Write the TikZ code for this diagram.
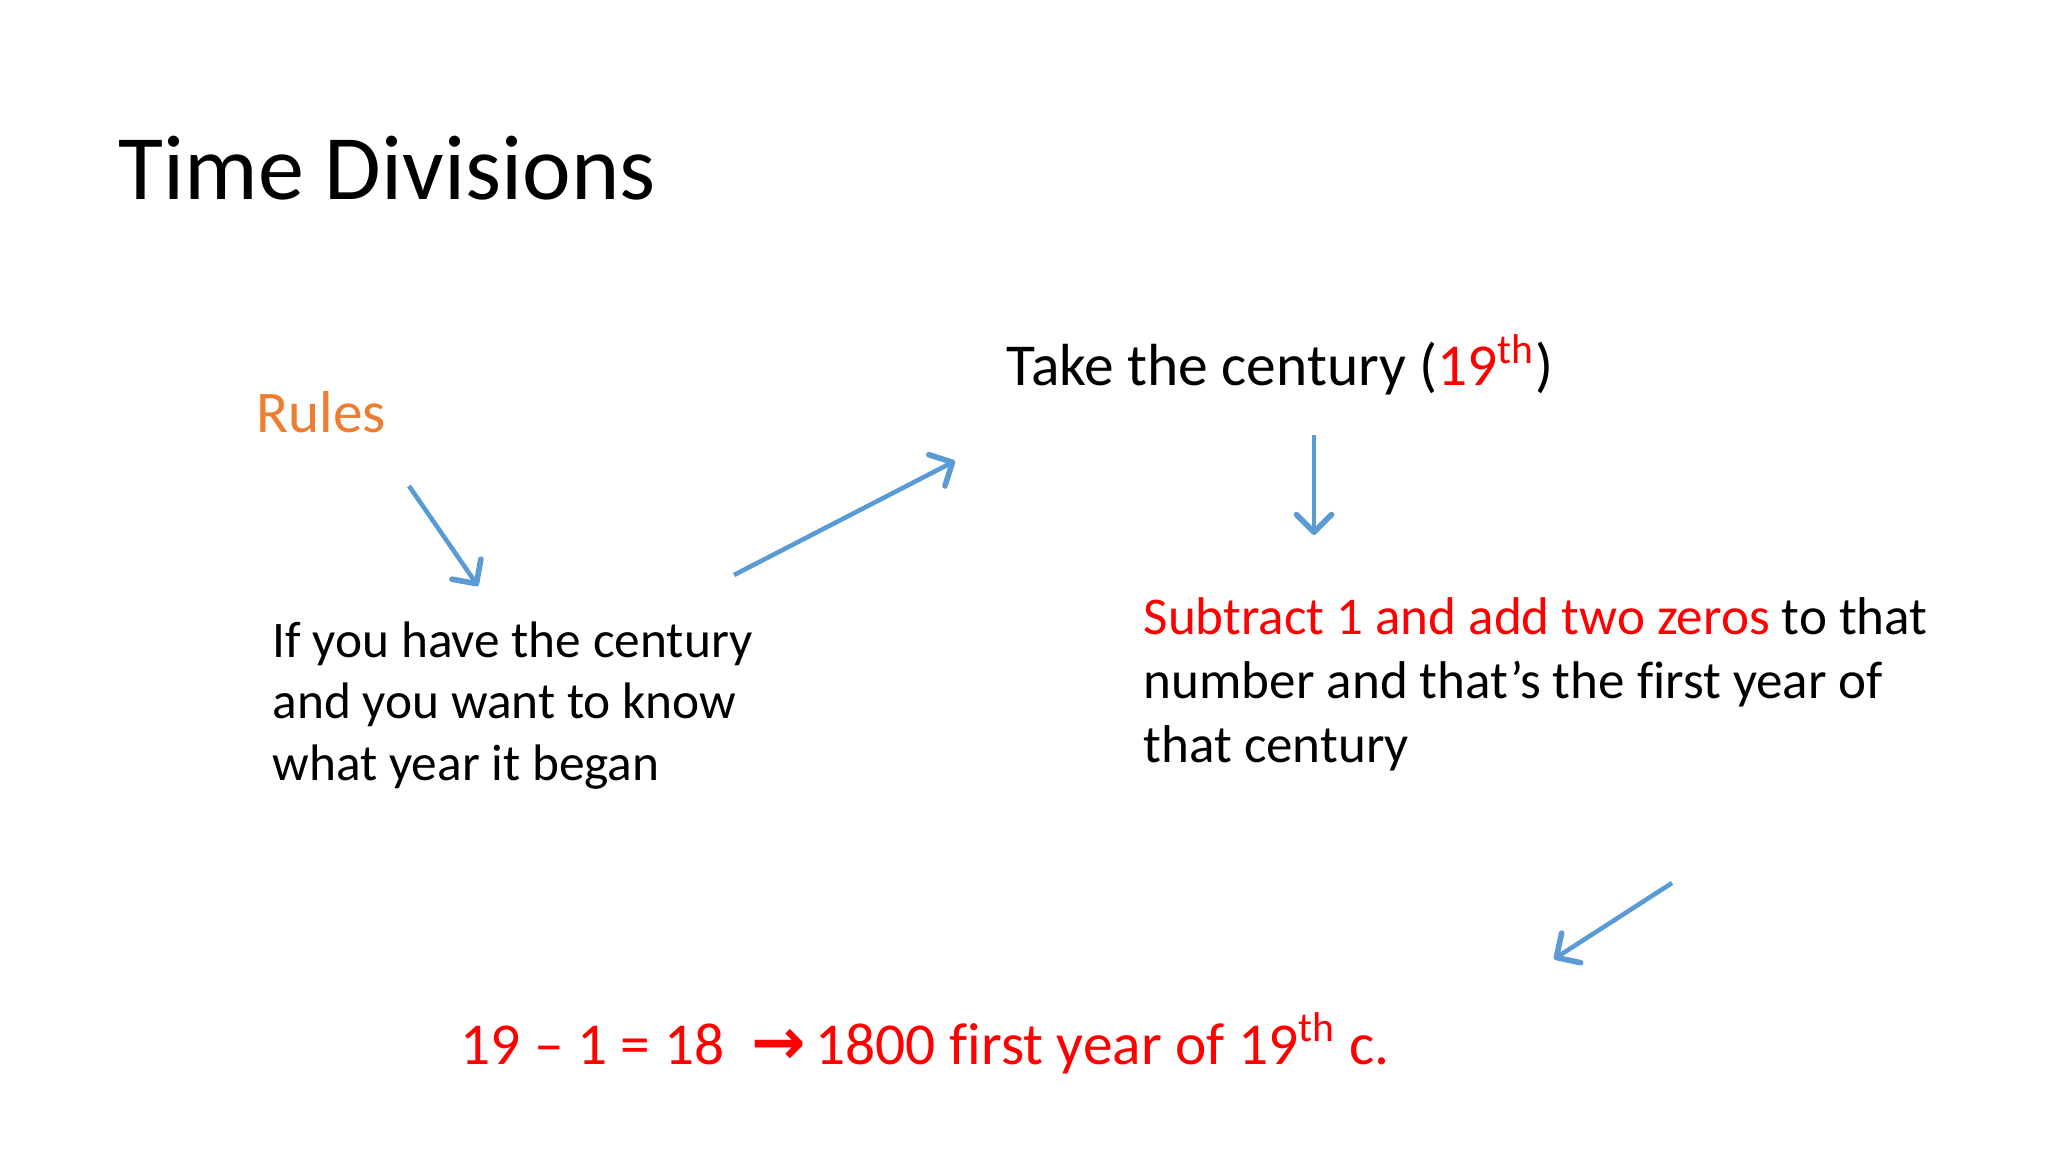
\documentclass[tikz,border=0pt]{standalone}
\usepackage{fontspec}
\setmainfont[Ligatures=CommonOff]{Carlito}
\newfontfamily\arrowfont{DejaVu Sans}
\usetikzlibrary{arrows.meta}
\definecolor{SlideBlue}{HTML}{5B9BD5}
\definecolor{SlideOrange}{HTML}{ED7D31}
\definecolor{SlideRed}{HTML}{FF0000}

\tikzset{
    txt/.style={anchor=base west, inner sep=0pt, align=left},
    flow/.style={SlideBlue, line width=1.3pt, -{Straight Barb[length=5pt, width=10pt, line width=1.6pt, round]}}
}

\begin{document}
\begin{tikzpicture}[x=0.01cm, y=-0.01cm]
    % Slide frame (pixel coordinates, y down)
    \useasboundingbox[fill=white] (0,0) rectangle (2048,1152);

    % Title
    \node[txt, font=\fontsize{26.2}{30}\selectfont] (title) at (118,200) {Time Divisions};

    % Texts (multi-line nodes sit on the baseline of their last line)
    \node[txt, text=SlideOrange, font=\fontsize{16.8}{20}\selectfont] (rules) at (256,433) {Rules};
    \node[txt, font=\fontsize{14.6}{17.4}\selectfont] (question) at (272,780)
        {If you have the century\\and you want to know\\what year it began};
    \node[txt, font=\fontsize{16.9}{20}\selectfont] (take) at (1006,386)
        {Take the century (\textcolor{SlideRed}{19\textsuperscript{th}})};
    \node[txt, font=\fontsize{15.1}{18.1}\selectfont] (subtract) at (1143,762)
        {\textcolor{SlideRed}{Subtract 1 and add two zeros} to that\\number and that’s the first year of\\that century};
    \node[txt, text=SlideRed, font=\fontsize{16.9}{20}\selectfont] (result) at (460,1064)
        {19 – 1 = 18 \ {\arrowfont\bfseries\fontsize{18.5}{20}\selectfont →}\,1800 first year of 19\textsuperscript{th} c.};

    % Arrow end points
    \coordinate (a1) at (409,486);
    \coordinate (b1) at (478,586);
    \coordinate (a2) at (734,575);
    \coordinate (b2) at (955,461);
    \coordinate (a3) at (1314,435);
    \coordinate (b3) at (1314,535);
    \coordinate (a4) at (1672,883);
    \coordinate (b4) at (1554,959);

    % Arrows
    \foreach \s/\e in {a1/b1, a2/b2, a3/b3, a4/b4} {
        \draw[flow] (\s) -- (\e);
    }
\end{tikzpicture}
\end{document}
